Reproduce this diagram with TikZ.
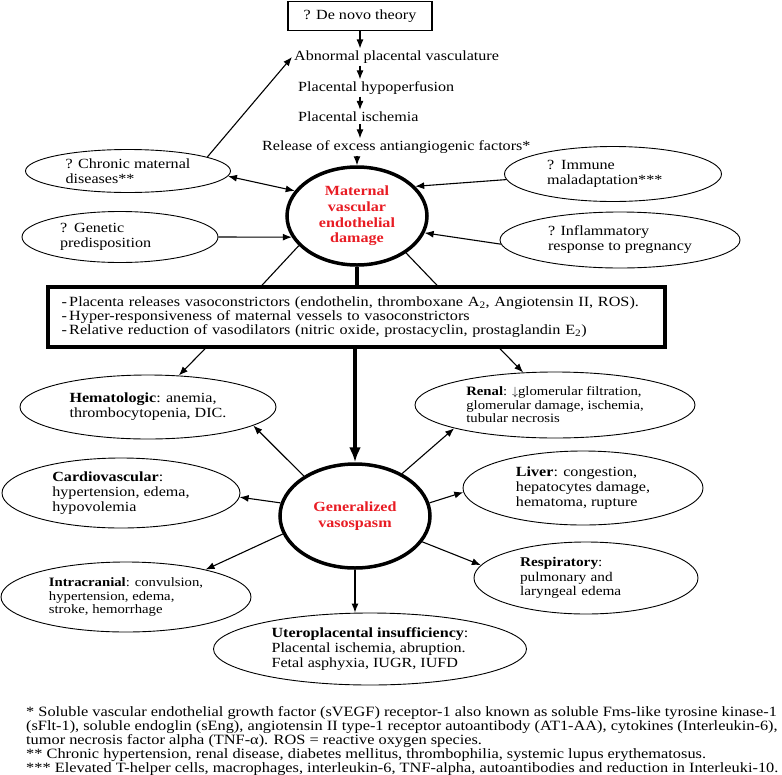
\documentclass[tikz,border=0pt]{standalone}
\usepackage{fontspec}
\setmainfont{Liberation Serif}[FakeStretch=1.15]
\usetikzlibrary{shapes.geometric,arrows.meta}
\definecolor{dmgred}{RGB}{232,28,36}
\begin{document}
\begin{tikzpicture}[x=1pt,y=-1pt,>={Latex[length=9pt,width=7pt]},
    every node/.style={font=\fontsize{14}{15}\selectfont},
    oval/.style={draw,ellipse,inner sep=0pt,align=left,line width=0.9pt},
    hub/.style={draw,ellipse,inner sep=0pt,align=center,line width=3.5pt,text=dmgred,font=\fontsize{14}{15.7}\selectfont\bfseries},
    chain/.style={anchor=west,inner sep=2pt},
    small/.style={font=\fontsize{12.8}{13.5}\selectfont},
    link/.style={line width=1.1pt,->}]
\useasboundingbox (0,0) rectangle (782,774);

\node[draw,line width=1.1pt,minimum width=144pt,minimum height=29pt] (denovo) at (360,16) {? De novo theory};
\node[chain] (abn) at (292,57) {Abnormal placental vasculature};
\node[chain] (hypo) at (296,88) {Placental hypoperfusion};
\node[chain] (isch) at (296,117) {Placental ischemia};
\node[chain] (rel) at (260,147) {Release of excess antiangiogenic factors*};
\node[hub,minimum width=140pt,minimum height=98pt] (maternal) at (357,216) {Maternal\\vascular\\endothelial\\damage};

\node[oval,minimum width=205pt,minimum height=43pt] (chronic) at (128,171) {? Chronic maternal\\diseases**};
\node[oval,text width=120pt,minimum width=196pt,minimum height=51pt] (genetic) at (120,237) {? Genetic\\predisposition};
\node[oval,text width=132pt,minimum width=217pt,minimum height=55pt] (immune) at (613,174) {? Immune\\maladaptation***};
\node[oval,minimum width=240pt,minimum height=56pt] (inflam) at (620,240) {? Inflammatory\\response to pregnancy};

\node[draw,line width=3.5pt,text width=590pt,inner xsep=13.5pt,minimum height=60pt,align=left,font=\fontsize{14.1}{13.8}\selectfont] (box) at (356.5,317) {-\,Placenta releases vasoconstrictors (endothelin, thromboxane A\textsubscript{2}, Angiotensin II, ROS).\\-\,Hyper-responsiveness of maternal vessels to vasoconstrictors\\-\,Relative reduction of vasodilators (nitric oxide, prostacyclin, prostaglandin E\textsubscript{2})};

\node[hub,minimum width=150pt,minimum height=104pt] (gen) at (355,516) {Generalized\\vasospasm};

\node[oval,minimum width=256pt,minimum height=64pt] (hema) at (148,407) {\textbf{Hematologic}: anemia,\\thrombocytopenia, DIC.};
\node[oval,minimum width=238pt,minimum height=70pt] (cardio) at (121,493) {\textbf{Cardiovascular}:\\hypertension, edema,\\hypovolemia};
\node[oval,small,minimum width=250pt,minimum height=70pt] (intra) at (126,597) {\textbf{Intracranial}: convulsion,\\hypertension, edema,\\stroke, hemorrhage};
\node[oval,small,minimum width=280pt,minimum height=66pt] (renal) at (555,405) {\textbf{Renal}: $\downarrow$glomerular filtration,\\glomerular damage, ischemia,\\tubular necrosis};
\node[oval,minimum width=240pt,minimum height=74pt] (liver) at (583,488) {\textbf{Liver}: congestion,\\hepatocytes damage,\\hematoma, rupture};
\node[oval,font=\fontsize{13.3}{14.5}\selectfont,text width=132pt,minimum width=224pt,minimum height=72pt] (resp) at (586,578) {\textbf{Respiratory}:\\pulmonary and\\laryngeal edema};
\node[oval,minimum width=313pt,minimum height=72pt] (utero) at (370,649) {\textbf{Uteroplacental insufficiency}:\\Placental ischemia, abruption.\\Fetal asphyxia, IUGR, IUFD};

\node[anchor=north west,align=left,inner sep=0pt,font=\fontsize{14.2}{12.7}\selectfont] (notes) at (26,706) {* Soluble vascular endothelial growth factor (sVEGF) receptor-1 also known as soluble Fms-like tyrosine kinase-1\\(sFlt-1), soluble endoglin (sEng), angiotensin II type-1 receptor autoantibody (AT1-AA), cytokines (Interleukin-6),\\tumor necrosis factor alpha (TNF-α). ROS = reactive oxygen species.\\{}** Chronic hypertension, renal disease, diabetes mellitus, thrombophilia, systemic lupus erythematosus.\\{}*** Elevated T-helper cells, macrophages, interleukin-6, TNF-alpha, autoantibodies and reduction in Interleuki-10.};

\draw[link] (denovo.south) -- (denovo.south |- abn.north);
\draw[link] (denovo.south |- abn.south) -- (denovo.south |- hypo.north);
\draw[link] (denovo.south |- hypo.south) -- (denovo.south |- isch.north);
\draw[link] (denovo.south |- isch.south) -- (denovo.south |- rel.north);
\draw[link] (maternal.north |- rel.south) -- (maternal.north);

\draw[link] (chronic.10) -- (abn.west);
\draw[link,<->] (chronic.-3) -- (maternal.158);
\draw[link] (genetic.east) -- (maternal.198);
\draw[link] (immune.183) -- (maternal.27);
\draw[link] (inflam.182) -- (maternal.-14);

\draw[line width=1.1pt] (maternal.207) -- ([xshift=-94.5pt]box.north);
\draw[line width=1.1pt] (maternal.323) -- ([xshift=80.5pt]box.north);
\draw[line width=3.5pt] (maternal.south) -- (maternal.south |- box.north);
\draw[line width=3.5pt,-{Latex[length=15pt,width=12pt]}] (gen.north |- box.south) -- (gen.north);
\draw[link] ([xshift=-151.5pt]box.south) -- (hema);
\draw[link] ([xshift=143.5pt]box.south) -- (renal);

\draw[link] (gen.142) -- (hema.-10);
\draw[link] (gen.170) -- (cardio.-2);
\draw[link] (gen.194) -- (intra.19);
\draw[link] (gen.42) -- (renal.193);
\draw[link] (gen.10) -- (liver.182);
\draw[link] (gen.-21) -- (resp.173);
\draw[link] (gen.south) -- (gen.south |- utero.north);
\end{tikzpicture}
\end{document}
